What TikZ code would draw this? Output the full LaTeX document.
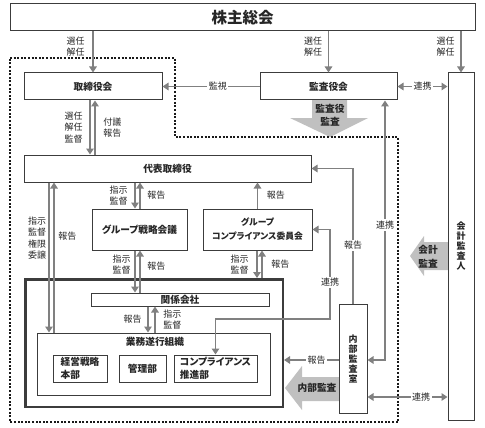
\documentclass[tikz,border=0pt]{standalone}
\usepackage{fontspec}
\setmainfont{Noto Sans CJK JP}[RawFeature=+palt]
\usepackage{xcolor}
\usetikzlibrary{arrows.meta}

\definecolor{boxline}{RGB}{60,60,60}
\definecolor{arrline}{RGB}{128,128,128}
\definecolor{fatarr}{RGB}{192,192,192}

\tikzset{
  kbox/.style={draw=boxline, line width=1pt, minimum height=27pt, inner sep=1pt, text=black!85, font=\fontsize{9.7}{12.5}\selectfont\bfseries},
  klbl/.style={text=black!85, font=\fontsize{9}{11.3}\selectfont, align=center, inner sep=0.5pt},
  kfill/.style={klbl, fill=white, inner sep=1.5pt},
  karr/.style={draw=arrline, line width=1.6pt, -{Triangle[length=6pt,width=7.5pt]}},
  kdarr/.style={karr, {Triangle[length=6pt,width=7.5pt]}-{Triangle[length=6pt,width=7.5pt]}},
  kfat/.style={fill=fatarr},
  kfattxt/.style={text=black!85, font=\fontsize{9.7}{13.5}\selectfont\bfseries, align=center, inner sep=0pt},
}

\begin{document}
\begin{tikzpicture}[x=1pt,y=-1pt]
        \useasboundingbox (0,0) rectangle (485,428);

        % fat arrows
        \fill[kfat] (312,100) -- (347,100) -- (347,118) -- (368,118) -- (330,137) -- (290,118) -- (312,118) -- cycle;
        \fill[kfat] (339,377) -- (302,377) -- (302,366) -- (285,388) -- (302,410) -- (302,401) -- (339,401) -- cycle;
        \fill[kfat] (448,242) -- (424,242) -- (424,236) -- (410,256) -- (424,276) -- (424,270) -- (448,270) -- cycle;
        \node[kfattxt] (kansatxt) at (330,115) {監査役\\監査};
        \node[kfattxt] (naibutxt) at (317,388) {内部監査};
        \node[kfattxt] (kaikeitxt) at (428,257) {会計\\監査};

        \draw[black!90, line width=2pt, dash pattern=on 2pt off 1.6pt] (10,58) -- (175,58) -- (175,137) -- (398,137) -- (398,422) -- (10,422) -- cycle;

        % boxes
        \node[kbox, minimum width=465pt, font=\fontsize{15.5}{18}\selectfont\bfseries] (soukai) at (242.5,17.5) {株主総会};
        \node[kbox, minimum width=138pt] (torishimari) at (93,86.5) {取締役会};
        \node[kbox, minimum width=137pt] (kansayaku) at (328.5,86.5) {監査役会};
        \node[kbox, minimum width=26pt, minimum height=347pt, align=center, font=\fontsize{9}{10}\selectfont\bfseries] (kaikeinin) at (461,246.5) {会\\計\\監\\査\\人};
        \node[kbox, minimum width=287pt] (daihyo) at (167.5,168.5) {代表取締役};
        \node[kbox, minimum width=95pt, minimum height=41pt] (senryaku) at (139.5,229.5) {グループ戦略会議};
        \node[kbox, minimum width=109pt, minimum height=41pt, align=center, font=\fontsize{8.8}{14}\selectfont\bfseries] (iinkai) at (257.5,229.5) {グループ\\コンプライアンス委員会};
        \node[draw=boxline, line width=2.5pt, minimum width=257.5pt, minimum height=127.5pt] (kanrengrp) at (154,343) {};
        \node[kbox, minimum width=178pt, minimum height=13pt] (kankei) at (180,299.5) {関係会社};
        \node[kbox, minimum width=233pt, minimum height=62pt] (gyomu) at (153.5,364) {};
        \node[kfattxt] (gyomutxt) at (155,342) {業務遂行組織};
        \node[kbox, minimum width=54pt, align=left] (keiei) at (80,368.5) {経営戦略\\本部};
        \node[kbox, minimum width=47pt] (kanri) at (142.5,368.5) {管理部};
        \node[kbox, minimum width=83pt, align=left] (suishin) at (215.5,368.5) {コンプライアンス\\推進部};
        \node[kbox, minimum width=28pt, minimum height=109pt, align=center, font=\fontsize{9}{10}\selectfont\bfseries] (naibu) at (353,358.5) {内\\部\\監\\査\\室};

        \coordinate (tdL) at (90,0);
        \coordinate (tdR) at (95,0);
        \coordinate (dsL) at (135,0);
        \coordinate (dsR) at (140,0);
        \coordinate (dgL) at (49,0);
        \coordinate (dgR) at (54,0);
        \coordinate (icL) at (257,0);
        \coordinate (icR) at (262,0);
        \coordinate (kgL) at (148,0);
        \coordinate (kgR) at (155,0);
        \coordinate (renkei) at (330,319);
        \coordinate (kncorner) at (385,360);
        \coordinate (nkr) at ([yshift=-38.5pt]naibu.east);

        % shareholders
        \draw[karr] (soukai.south -| torishimari.north) -- node[klbl, left=7pt, pos=0.37]{選任\\解任} (torishimari.north);
        \draw[karr] (soukai.south -| kansayaku.north) -- node[klbl, left=5pt, pos=0.37]{選任\\解任} (kansayaku.north);
        \draw[karr] (soukai.south -| kaikeinin.north) -- node[klbl, left=5pt, pos=0.37]{選任\\解任} (kaikeinin.north);

        \draw[karr] (kansayaku.west) -- node[kfill, pos=0.43]{監視} (torishimari.east);
        \draw[kdarr] (kansayaku.east) -- node[kfill]{連携} (kansayaku.east -| kaikeinin.west);

        \draw[karr] (torishimari.south -| tdL) -- node[klbl, left=6pt]{選任\\解任\\監督} (daihyo.north -| tdL);
        \draw[karr] (daihyo.north -| tdR) -- node[klbl, right=7pt]{付議\\報告} (torishimari.south -| tdR);

        \draw[karr] (daihyo.south -| dsL) -- node[klbl, left=6pt]{指示\\監督} (senryaku.north -| dsL);
        \draw[karr] (senryaku.north -| dsR) -- node[klbl, right=6pt]{報告} (daihyo.south -| dsR);
        \draw[karr] (senryaku.south -| dsL) -- node[klbl, left=3pt, pos=0.34]{指示\\監督} (kankei.north -| dsL);
        \draw[karr] (kankei.north -| dsR) -- node[klbl, right=6pt, pos=0.63]{報告} (senryaku.south -| dsR);

        \draw[karr] (daihyo.south -| dgL) -- node[klbl, left=1.5pt, pos=0.37]{指示\\監督\\権限\\委譲} (gyomu.north -| dgL);
        \draw[karr] (gyomu.north -| dgR) -- node[klbl, right=3pt, pos=0.64]{報告} (daihyo.south -| dgR);

        \draw[karr] (iinkai.north) -- node[klbl, right=8pt]{報告} (daihyo.south -| iinkai.north);
        \draw[karr] (iinkai.south -| icL) -- node[klbl, left=7pt]{指示\\監督} (kanrengrp.north -| icL);
        \draw[karr] (kanrengrp.north -| icR) -- node[klbl, right=8pt]{報告} (iinkai.south -| icR);

        \draw[karr] (kankei.south -| kgL) -- node[klbl, left=5pt]{報告} (gyomu.north -| kgL);
        \draw[karr] (gyomu.north -| kgR) -- node[klbl, right=7pt]{指示\\監督} (kankei.south -| kgR);

        % internal audit
        \draw[karr] (naibu.north) -- node[kfill, pos=0.43]{報告} (naibu.north |- daihyo.east) -- (daihyo.east);
        \draw[kdarr] (iinkai.east) -- (iinkai.east -| renkei) -- node[kfill, pos=0.59]{連携} (renkei) -- (renkei -| suishin.north) -- (suishin.north);
        \draw[kdarr] (kansayaku.south -| kncorner) -- node[kfill, pos=0.48]{連携} (kncorner) -- (kncorner -| naibu.east);
        \draw[karr] (naibu.west |- kncorner) -- node[kfill, pos=0.4]{報告} (kanrengrp.east |- kncorner);
        \draw[kdarr] (nkr) -- node[kfill, pos=0.67]{連携} (nkr -| kaikeinin.west);
\end{tikzpicture}
\end{document}
